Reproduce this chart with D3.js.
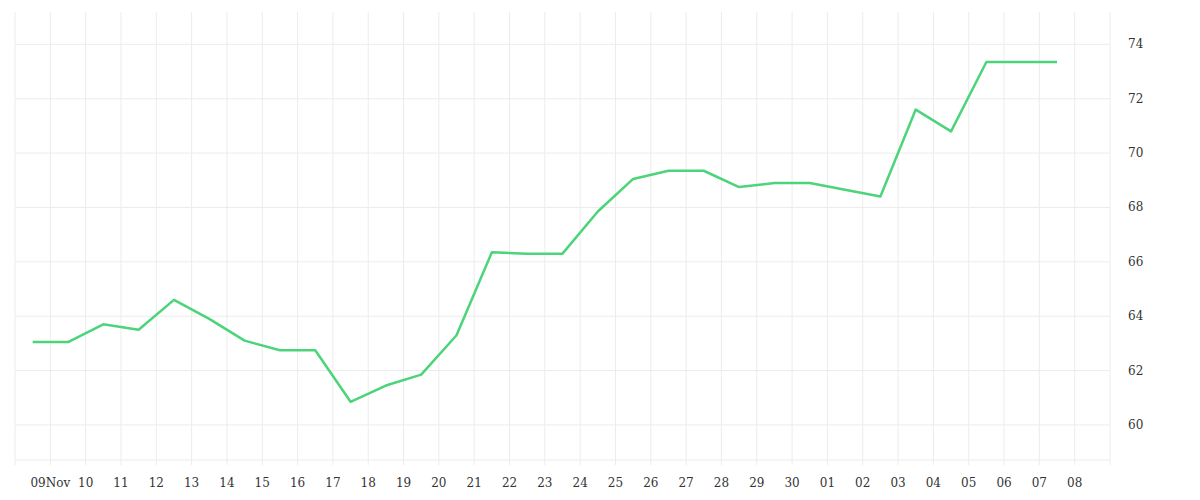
<!DOCTYPE html>
<html><head><meta charset="utf-8">
<script src="https://cdn.jsdelivr.net/npm/d3@7"></script>
<style>body{margin:0;background:#fff}text{font-family:"DejaVu Serif","Liberation Serif",serif;font-size:12px;fill:#333}</style>
</head><body><svg id="c" width="1200" height="500"></svg>
<script>
const dates = ["2023-11-08","2023-11-09","2023-11-10","2023-11-11","2023-11-12","2023-11-13","2023-11-14","2023-11-15","2023-11-16","2023-11-17","2023-11-18","2023-11-19","2023-11-20","2023-11-21","2023-11-22","2023-11-23","2023-11-24","2023-11-25","2023-11-26","2023-11-27","2023-11-28","2023-11-29","2023-11-30","2023-12-01","2023-12-02","2023-12-03","2023-12-04","2023-12-05","2023-12-06","2023-12-07"];
const values = [63.05,63.05,63.7,63.5,64.6,63.9,63.1,62.75,62.75,60.85,61.45,61.85,63.3,66.35,66.3,66.3,67.85,69.05,69.35,69.35,68.75,68.9,68.9,68.65,68.4,71.6,70.8,73.35,73.35,73.35];
const yTicks = [60,62,64,66,68,70,72,74];
const svg = d3.select("#c");
const x = d3.scaleUtc().domain([new Date("2023-11-08T00:00Z"), new Date("2023-12-09T00:00Z")]).range([15,1110]);
const y = d3.scaleLinear().domain([58.71,75.19]).range([460,12]);
const days = d3.utcDay.range(x.domain()[0], d3.utcDay.offset(x.domain()[1],1));
const g = svg.append("g");
g.selectAll(".v").data(days).join("line").attr("x1",d=>x(d)).attr("x2",d=>x(d)).attr("y1",12).attr("y2",465).attr("stroke","#ececec");
g.selectAll(".h").data(yTicks).join("line").attr("x1",15).attr("x2",1110).attr("y1",d=>y(d)).attr("y2",d=>y(d)).attr("stroke","#ececec");
g.append("line").attr("x1",15).attr("x2",1110).attr("y1",460).attr("y2",460).attr("stroke","#ececec");
g.selectAll(".xl").data(days.slice(1,-1)).join("text").attr("x",d=>x(d)).attr("y",487).attr("text-anchor","middle")
 .text(d=>d.getUTCDate()===9&&d.getUTCMonth()===10 ? "09Nov" : d3.utcFormat("%d")(d));
g.selectAll(".yl").data(yTicks).join("text").attr("x",1128).attr("y",d=>y(d)+4).text(d=>d);
const line = d3.line().x((d,i)=>x(new Date(dates[i]+"T12:00Z"))).y(d=>y(d));
svg.append("path").datum(values).attr("d",line).attr("fill","none").attr("stroke","#4cd47a").attr("stroke-width",2.5).attr("stroke-linejoin","round");
</script></body></html>
